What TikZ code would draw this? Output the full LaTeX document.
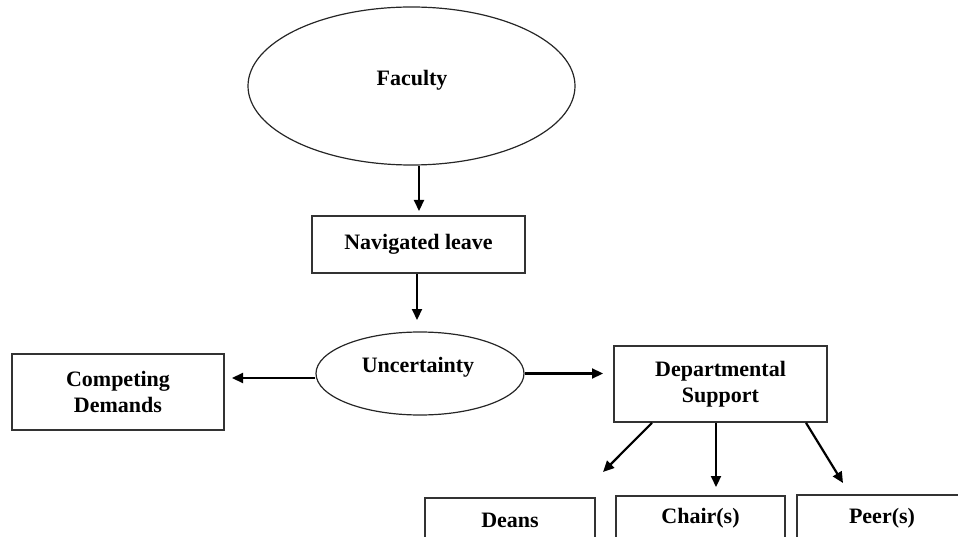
\documentclass[tikz,border=0pt]{standalone}
\usepackage{fontspec}
\setmainfont{Liberation Serif}
\usetikzlibrary{shapes.geometric,arrows.meta}
\begin{document}
\begin{tikzpicture}[x=1pt,y=-1pt,
  lbl/.style={font=\fontsize{22}{26}\selectfont\bfseries, align=center, inner sep=0pt},
  ovalshape/.style={draw=black!85, line width=1.2pt, ellipse, inner sep=0pt},
  boxshape/.style={draw=black!80, line width=1.6pt, rectangle, inner sep=0pt,
    font=\fontsize{22}{26}\selectfont\bfseries, align=center},
  flow/.style={draw=black, line width=2.2pt, -{Triangle[length=11pt,width=10pt]}}]
\useasboundingbox (0,0) rectangle (958,537);
\clip (0,0) rectangle (958,537);

% ovals
\node[ovalshape, minimum width=327pt, minimum height=158pt] (faculty) at (411.5,86) {};
\node[lbl] (facultytext) at (412,80) {Faculty};
\node[ovalshape, minimum width=208pt, minimum height=83pt] (unc) at (420,373.5) {};
\node[lbl] (unctext) at (418,367) {Uncertainty};

% boxes
\node[boxshape, minimum width=213pt, minimum height=57pt] (nav) at (418.5,244.5) {Navigated leave};
\node[boxshape, minimum width=212pt, minimum height=76pt] (comp) at (118,392) {Competing\\Demands};
\node[boxshape, minimum width=213pt, minimum height=76pt] (dept) at (720.5,384) {Departmental\\Support};
\node[boxshape, minimum width=170pt, minimum height=44pt] (deans) at (510,520) {Deans};
\node[boxshape, minimum width=169pt, minimum height=44pt] (chair) at (700.5,518) {Chair(s)};
\node[boxshape, minimum width=170pt, minimum height=46pt] (peer) at (882,518) {Peer(s)};

% free arrow ends
\coordinate (tipA) at (419,211);
\coordinate (tipB) at (417,320);
\coordinate (tipC) at (232,378);
\coordinate (tipD) at (603,373.5);
\coordinate (tipE) at (603,472);
\coordinate (tipF) at (716,487);
\coordinate (tipG) at (843,483);
\coordinate (srcE) at (652,422);
\coordinate (srcG) at (806,422);

% connectors
\draw[flow] (faculty.south -| tipA) -- (tipA);
\draw[flow] (nav.south -| tipB) -- (tipB);
\draw[flow] (unc.west |- tipC) -- (tipC);
\draw[flow] (unc.east) -- (tipD);
\draw[flow] (dept.south -| srcE) -- (tipE);
\draw[flow] (dept.south -| tipF) -- (tipF);
\draw[flow] (dept.south -| srcG) -- (tipG);
\end{tikzpicture}
\end{document}
